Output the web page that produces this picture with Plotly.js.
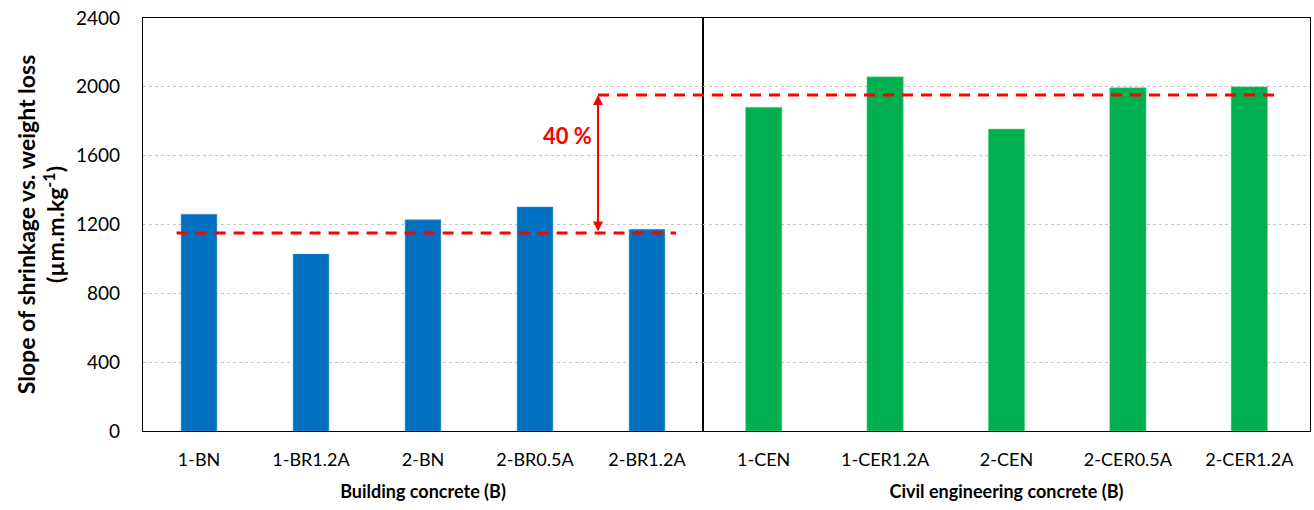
<!DOCTYPE html>
<html>
<head>
<meta charset="utf-8">
<script src="https://cdn.plot.ly/plotly-3.0.1.min.js"></script>
<style>html,body{margin:0;padding:0;background:#fff}#chart{width:1314px;height:510px}</style>
</head>
<body>
<div id="chart"></div>
<script>
const buildingCats = ["1-BN", "1-BR1.2A", "2-BN", "2-BR0.5A", "2-BR1.2A"];
const buildingVals = [1260, 1028, 1228, 1302, 1172];
const civilCats = ["1-CEN", "1-CER1.2A", "2-CEN", "2-CER0.5A", "2-CER1.2A"];
const civilVals = [1882, 2058, 1755, 1995, 2000];
const buildingMean = 1150;
const civilMean = 1952;
const diffLabel = "40 %";
const yTicks = [0, 400, 800, 1200, 1600, 2000, 2400];

const FONT = "Lato, 'Open Sans', sans-serif";
const split = 560 / 1167;

const traces = [
  {type: "bar", x: buildingCats, y: buildingVals, xaxis: "x", yaxis: "y",
   marker: {color: "#0070C0", line: {color: "#5B9BD5", width: 0.5}}, width: 0.32, hoverinfo: "x+y"},
  {type: "bar", x: civilCats, y: civilVals, xaxis: "x2", yaxis: "y2",
   marker: {color: "#00B050", line: {color: "#7FD8A0", width: 0.5}}, width: 0.3, hoverinfo: "x+y"}
];

const yaxisBase = {
  range: [0, 2400], tickvals: yTicks, showgrid: true, gridcolor: "#c4c4c4",
  griddash: "dot", gridwidth: 1, showline: true, linecolor: "#000", linewidth: 1.2,
  mirror: true, zeroline: false, ticks: "", fixedrange: true
};

const layout = {
  width: 1314, height: 510,
  margin: {l: 143, r: 4, t: 18, b: 79},
  paper_bgcolor: "#fff", plot_bgcolor: "#fff",
  showlegend: false,
  font: {family: FONT, color: "#000", size: 18},
  xaxis: {domain: [0, split], anchor: "y", showline: true, linecolor: "#000", linewidth: 1.2,
    mirror: true, ticks: "", tickfont: {size: 18}, range: [-0.5, 4.5], ticklabelstandoff: 12,
    title: {text: "<b>Building concrete (B)</b>", font: {size: 18}, standoff: 16}},
  xaxis2: {domain: [split, 1], anchor: "y2", showline: true, linecolor: "#000", linewidth: 1.2,
    mirror: true, ticks: "", tickfont: {size: 18}, range: [-0.5, 4.5], ticklabelstandoff: 12,
    title: {text: "<b>Civil engineering concrete (B)</b>", font: {size: 18}, standoff: 16}},
  yaxis: Object.assign({}, yaxisBase, {anchor: "x", tickfont: {size: 19}, ticklabelstandoff: 18,
    title: {text: "<b>Slope of shrinkage vs. weight loss<br>(µm.m.kg<sup>-1</sup>)</b>", font: {size: 23}, standoff: 4}}),
  yaxis2: Object.assign({}, yaxisBase, {anchor: "x2", showticklabels: false, matches: "y"}),
  shapes: [
    {type: "line", xref: "x", yref: "y", x0: -0.2, x1: 4.26, y0: buildingMean, y1: buildingMean,
     line: {color: "#FF0000", width: 3, dash: "11px,8px"}},
    {type: "line", xref: "paper", yref: "y", x0: (598 - 143) / 1167, x1: (1275 - 143) / 1167, y0: civilMean, y1: civilMean,
     line: {color: "#FF0000", width: 3, dash: "11px,8px"}}
  ],
  annotations: [
    {xref: "paper", yref: "y", x: (598 - 143) / 1167, y: civilMean, ax: (598 - 143) / 1167, ay: buildingMean,
     axref: "paper", ayref: "y", showarrow: true, arrowhead: 2, arrowside: "end+start", arrowsize: 1,
     arrowwidth: 2, arrowcolor: "#FF0000", text: ""},
    {xref: "paper", yref: "y", x: (567 - 143) / 1167, y: 1720, text: "<b>" + diffLabel + "</b>",
     showarrow: false, font: {size: 22, color: "#FF0000"}}
  ]
};

Plotly.newPlot("chart", traces, layout, {displayModeBar: false, staticPlot: true});
</script>
</body>
</html>
